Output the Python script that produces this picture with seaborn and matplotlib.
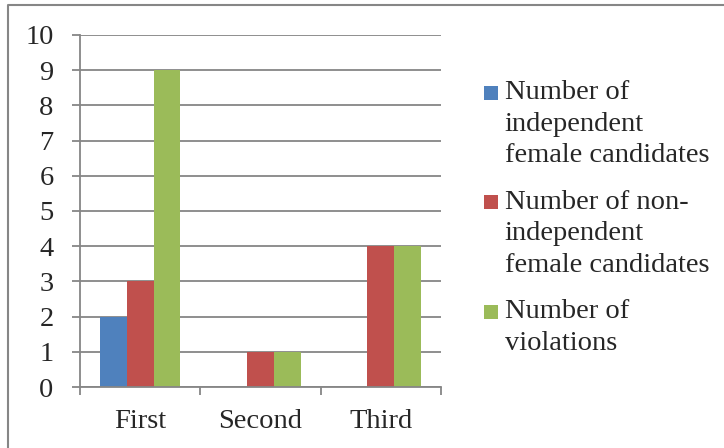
import pandas as pd
import numpy as np
import seaborn as sns
import matplotlib.pyplot as plt
from matplotlib.lines import Line2D
from matplotlib.patches import Rectangle
from matplotlib.legend_handler import HandlerPatch

## Data
rounds = ['First', 'Second', 'Third']
series = ['Number of independent female candidates',
          'Number of non-independent female candidates',
          'Number of violations']
legend_labels = ['Number of\nindependent\nfemale candidates',
                 'Number of non-\nindependent\nfemale candidates',
                 'Number of\nviolations']
independent = [2, 0, 0]
non_independent = [3, 1, 4]
violations = [9, 1, 4]
colors = ['#4F81BD', '#C0504D', '#9BBB59']

df = pd.DataFrame({
    'round': rounds * 3,
    'series': [s for s in series for _ in rounds],
    'count': independent + non_independent + violations,
})

sns.set_style('white')
plt.rcParams['font.family'] = ['Liberation Serif', 'DejaVu Serif']
grey = '#868686'
fs = 20.5
line_px = 31  # legend line pitch in pixels

fig = plt.figure(figsize=(7.24, 4.48), dpi=100)
ax = fig.add_axes([80/724, 1 - 387/448, (441 - 80)/724, (387 - 35)/448])

sns.barplot(data=df, x='round', y='count', hue='series', hue_order=series,
            order=rounds, palette=colors, saturation=1, width=2/3, gap=0,
            linewidth=0, ax=ax, legend=True)

ax.set_xlim(-0.5, 2.5)
ax.set_ylim(0, 10)
ax.set_yticks(range(0, 11))
ax.set_xlabel('')
ax.set_ylabel('')
ax.grid(axis='y', color=grey, linewidth=1.3)
ax.set_axisbelow(True)
for side in ['top', 'right']:
    ax.spines[side].set_visible(False)
for side in ['left', 'bottom']:
    ax.spines[side].set_color(grey)
    ax.spines[side].set_linewidth(1.3)

ax.tick_params(axis='y', which='major', length=6, width=1.3, color=grey,
               direction='out', left=True, pad=13, labelsize=fs)
ax.tick_params(axis='x', which='major', length=0, pad=16, labelsize=fs)
ax.set_xticks([-0.5, 0.5, 1.5, 2.5], minor=True)
ax.tick_params(axis='x', which='minor', length=6, width=1.3, color=grey,
               direction='out', bottom=True)


def top_square(legend, orig_handle, xdescent, ydescent, width, height, fontsize):
    # put the swatch next to the first line of a multi-line label
    nlines = orig_handle.get_label().count('\n')
    side = 14 * 72 / 100
    shift = nlines * line_px * 72 / 100
    return Rectangle((-xdescent, -ydescent + (height - side) / 2 + shift / 2), side, side)


handles, _ = ax.get_legend_handles_labels()
ax.get_legend().remove()
for h, lab in zip(handles, legend_labels):
    h.set_label(lab)
leg = fig.legend(handles, legend_labels, loc='upper left',
                 bbox_to_anchor=(484/724, 1 - 80/448), frameon=False,
                 fontsize=fs, handlelength=14 * 0.72 / fs, handleheight=14 * 0.72 / fs,
                 handletextpad=0.23, labelspacing=0.75, borderaxespad=0, borderpad=0,
                 handler_map={h: HandlerPatch(patch_func=top_square) for h in handles})
for t in leg.get_texts():
    t.set_linespacing(1.35)

# outer chart border (top and left edges visible)
fig.add_artist(Line2D([8/724, 8/724, 1], [0, 1 - 5.5/448, 1 - 5.5/448],
                      transform=fig.transFigure, color=grey, linewidth=1.5))

fig.savefig('out.png', dpi=100)
